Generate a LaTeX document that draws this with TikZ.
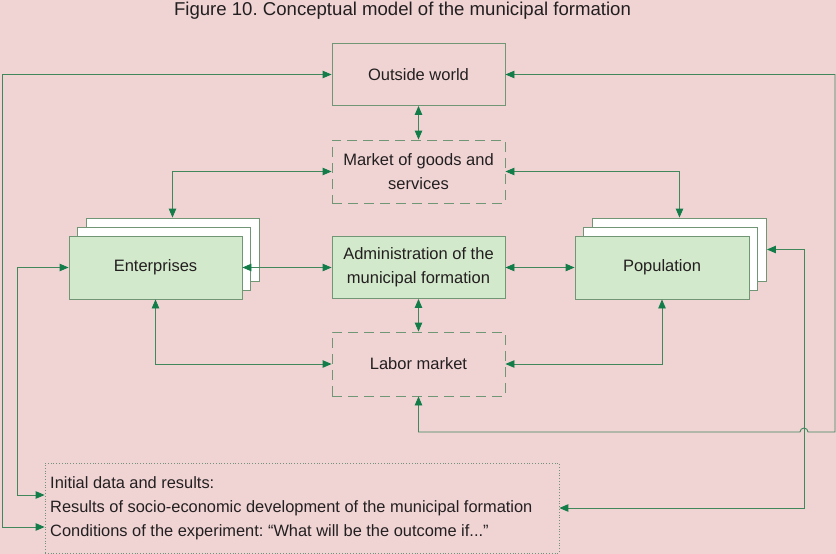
\documentclass[tikz,border=0pt]{standalone}
\usepackage{fontspec}
\setmainfont{Liberation Sans}
\usetikzlibrary{arrows.meta}
\frenchspacing
\definecolor{bgpink}{RGB}{240,212,212}
\definecolor{boxgreen}{RGB}{211,233,203}
\definecolor{boxline}{RGB}{112,150,118}
\definecolor{conline}{RGB}{64,135,92}
\definecolor{arrgreen}{RGB}{18,125,72}
\definecolor{txt}{RGB}{35,31,32}
\tikzset{
  x=1pt,y=-1pt,
  every node/.style={font=\fontsize{16.5}{24}\selectfont,text=txt},
  plainbox/.style={draw=boxline,line width=0.9pt,minimum width=173pt,minimum height=62pt,inner sep=0pt,align=center},
  greenbox/.style={plainbox,fill=boxgreen},
  backbox/.style={plainbox,fill=white},
  dashbox/.style={plainbox,dash pattern=on 10pt off 6pt},
  dotbox/.style={draw=boxline!80!gray,line width=0.8pt,dotted,minimum width=514pt,minimum height=90pt,inner sep=0pt},
  con/.style={draw=conline,line width=0.9pt,arrows={Triangle[length=9pt,width=7.5pt,color=arrgreen]-Triangle[length=9pt,width=7.5pt,color=arrgreen]}},
}
\begin{document}
\begin{tikzpicture}
\fill[bgpink] (0,0) rectangle (836,554);
\useasboundingbox (0,0) rectangle (836,554);
\node[font=\fontsize{18.6}{22}\selectfont] (title) at (402.5,11) {Figure 10. Conceptual model of the municipal formation};
% boxes
\node[plainbox] (ow) at (418.5,74.5) {Outside world};
\node[dashbox,minimum height=63pt] (mg) at (418.5,171.5) {Market of goods and\\services};
\node[greenbox] (adm) at (418.5,267.5) {Administration of the\\municipal formation};
\node[dashbox,minimum height=64pt] (lab) at (418.5,364) {Labor market};
\node[backbox,minimum height=63pt] (ent3) at (172.5,249.5) {};
\node[backbox,minimum height=63pt] (ent2) at (163.5,258.5) {};
\node[greenbox,minimum height=63pt] (ent) at (155.5,267.5) {Enterprises};
\node[backbox,minimum height=63pt,minimum width=174pt] (pop3) at (679.5,249.5) {};
\node[backbox,minimum height=63pt,minimum width=174pt] (pop2) at (670.5,258.5) {};
\node[greenbox,minimum height=63pt,minimum width=174pt] (pop) at (662,267.5) {Population};
\node[dotbox] (init) at (302,508) {};
\node[anchor=west,align=left,inner sep=0pt,font=\fontsize{16.4}{24}\selectfont] (inittext) at (50,508) {Initial data and results:\\Results of socio-economic development of the municipal formation\\Conditions of the experiment: “What will be the outcome if...”};
% bend coordinates
\coordinate (c1) at (2,74.5);
\coordinate (c2) at (2,527);
\coordinate (c3) at (17,267.5);
\coordinate (c4) at (17,495);
\coordinate (c5) at (835,74.5);
\coordinate (c6) at (835,432);
\coordinate (h1) at (808,432);
\coordinate (c7) at (418.5,432);
\coordinate (c8) at (804,249.5);
\coordinate (c9) at (804,508);
% connectors
\draw[con] (ow.west) -- (c1) -- (c2) -- (init.west |- c2);
\draw[con] (ent.west) -- (c3) -- (c4) -- (init.west |- c4);
\draw[con] (ow.east) -- (c5) -- (c6) -- (h1) arc[start angle=0,end angle=180,radius=4pt] -- (c7) -- (lab.south);
\draw[con] (pop3.east) -- (c8) -- (c9) -- (init.east);
\draw[con] (ow.south) -- (mg.north);
\draw[con] (mg.west) -| (ent3.north);
\draw[con] (mg.east) -| (pop3.north);
\draw[con] (ent.east) -- (adm.west);
\draw[con] (adm.east) -- (pop.west);
\draw[con] (adm.south) -- (lab.north);
\draw[con] (ent.south) |- (lab.west);
\draw[con] (pop.south) |- (lab.east);
\end{tikzpicture}
\end{document}
